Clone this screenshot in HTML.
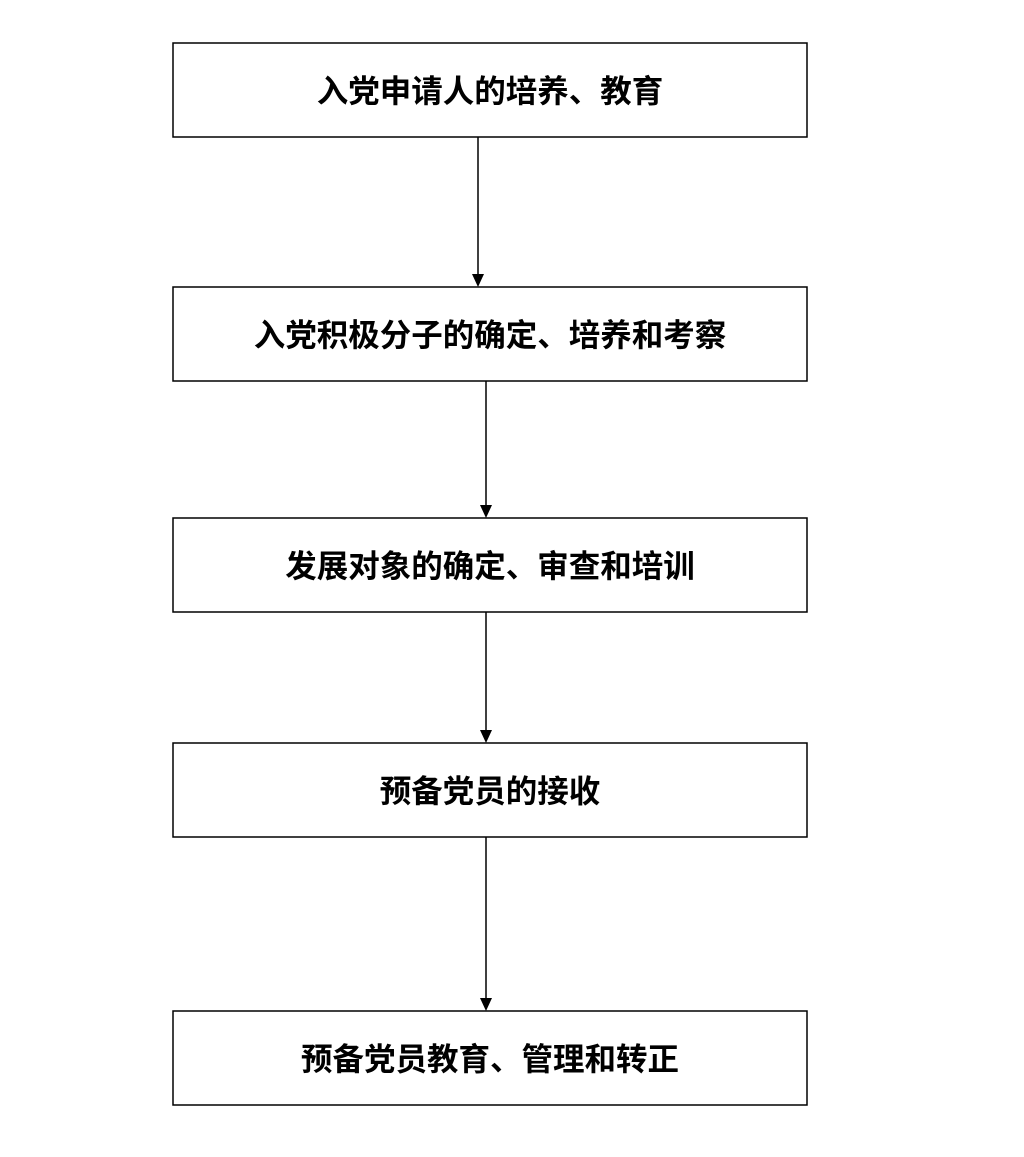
<!DOCTYPE html>
<html><head><meta charset="utf-8"><style>
body{margin:0;background:#fff;width:1024px;height:1152px;overflow:hidden;}
svg text{font-family:"Liberation Sans","Noto Sans CJK SC",sans-serif;font-weight:bold;font-size:31.5px;fill:#000;}
</style></head><body>
<svg width="1024" height="1152" xmlns="http://www.w3.org/2000/svg">
<g fill="#fff" stroke="#000" stroke-width="1.5">
<rect x="173" y="43" width="634" height="94"/>
<rect x="173" y="287" width="634" height="94"/>
<rect x="173" y="518" width="634" height="94"/>
<rect x="173" y="743" width="634" height="94"/>
<rect x="173" y="1011" width="634" height="94"/>
</g>
<g stroke="#000" stroke-width="1.5">
<line x1="478" y1="137" x2="478" y2="276"/>
<line x1="486" y1="381" x2="486" y2="507"/>
<line x1="486" y1="612" x2="486" y2="732"/>
<line x1="486" y1="837" x2="486" y2="1000"/>
</g>
<g fill="#000">
<polygon points="472,274 484,274 478,287"/>
<polygon points="480,505 492,505 486,518"/>
<polygon points="480,730 492,730 486,743"/>
<polygon points="480,998 492,998 486,1011"/>
</g>
<g text-anchor="middle">
<text x="490" y="102">入党申请人的培养、教育</text>
<text x="490" y="346">入党积极分子的确定、培养和考察</text>
<text x="490" y="577">发展对象的确定、审查和培训</text>
<text x="490" y="802">预备党员的接收</text>
<text x="490" y="1070">预备党员教育、管理和转正</text>
</g>
</svg>
</body></html>
